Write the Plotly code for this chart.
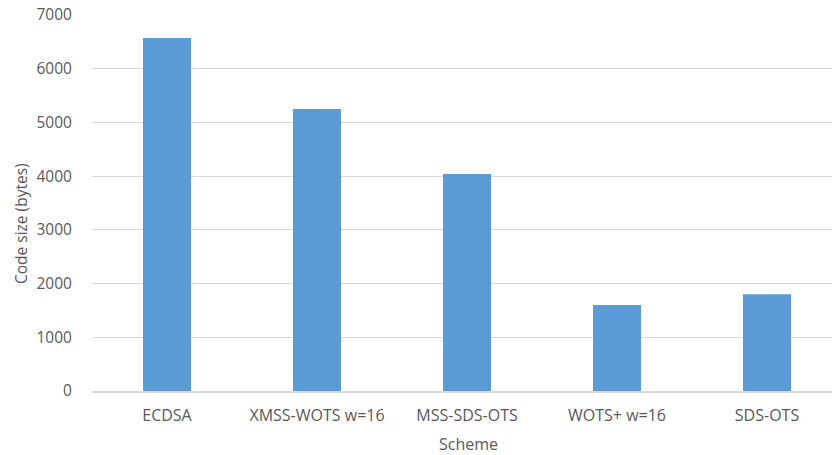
import plotly.graph_objects as go

schemes = ["ECDSA", "XMSS-WOTS w=16", "MSS-SDS-OTS", "WOTS+ w=16", "SDS-OTS"]
code_size = [6570, 5250, 4040, 1600, 1800]
y_ticks = [0, 1000, 2000, 3000, 4000, 5000, 6000, 7000]

text_color = "#595959"
grid_color = "#D9D9D9"
font_family = "Open Sans"

W, H = 832, 455
M_L, M_R, M_T, M_B = 92, 0, 15, 64

fig = go.Figure(
    go.Bar(
        x=list(range(len(schemes))),
        y=code_size,
        width=0.32,
        marker=dict(color="#5B9BD5", line=dict(width=0)),
    )
)

fig.update_layout(
    width=W,
    height=H,
    margin=dict(l=M_L, r=M_R, t=M_T, b=M_B),
    paper_bgcolor="white",
    plot_bgcolor="white",
    showlegend=False,
    font=dict(family=font_family, size=15, color=text_color),
)

fig.update_xaxes(
    range=[-0.5, -0.5 + (W - M_L) / 150],
    tickmode="array",
    tickvals=list(range(len(schemes))),
    ticktext=schemes,
    tickfont=dict(size=16, color=text_color),
    ticks="outside",
    ticklen=9,
    tickcolor="rgba(0,0,0,0)",
    showgrid=False,
    showline=True,
    linecolor=grid_color,
    linewidth=1.5,
    zeroline=False,
)

fig.update_yaxes(
    range=[0, 7000],
    tickmode="array",
    tickvals=y_ticks,
    ticktext=[str(v) for v in y_ticks],
    tickfont=dict(size=15.5, color=text_color),
    ticks="outside",
    ticklen=16,
    tickcolor="rgba(0,0,0,0)",
    showgrid=True,
    gridcolor=grid_color,
    gridwidth=1,
    zeroline=False,
    showline=False,
)

# axis titles placed in paper coordinates
fig.add_annotation(
    text="Scheme",
    xref="paper", yref="paper",
    x=(468 - M_L) / (W - M_L - M_R),
    y=-(444 - (H - M_B)) / (H - M_T - M_B),
    xanchor="center", yanchor="middle",
    showarrow=False,
    font=dict(size=16, color=text_color),
)
fig.add_annotation(
    text="Code size (bytes)",
    xref="paper", yref="paper",
    x=-(M_L - 21) / (W - M_L - M_R),
    y=((H - M_B) - 224) / (H - M_T - M_B),
    xanchor="center", yanchor="middle",
    textangle=-90,
    showarrow=False,
    font=dict(size=15.5, color=text_color),
)

fig.write_html("out.html")
